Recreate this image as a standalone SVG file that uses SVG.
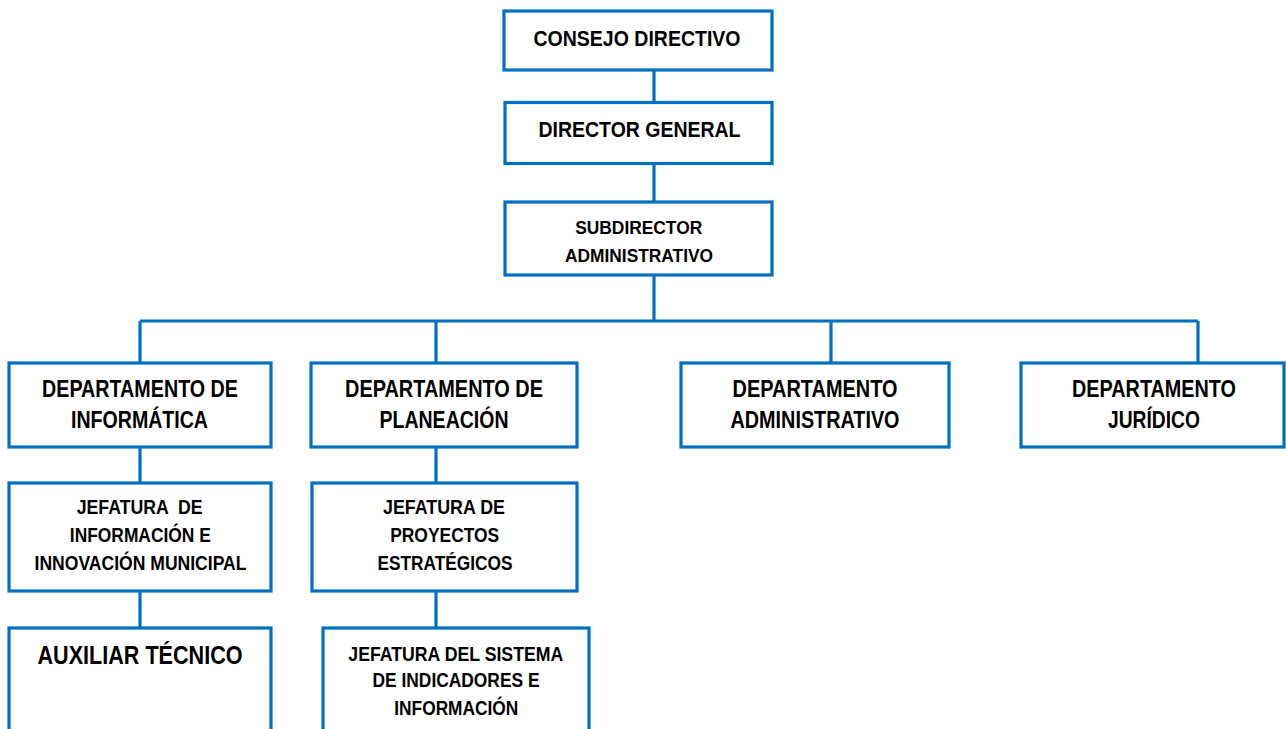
<svg xmlns="http://www.w3.org/2000/svg" width="1286" height="729" viewBox="0 0 1286 729">
<style>
.box{fill:#ffffff;stroke:#0070C0;stroke-width:3.2}
.ln{stroke:#0070C0;stroke-width:3.2;fill:none}
text{font-family:"Liberation Sans",Arial,sans-serif;font-weight:bold;fill:#000;text-anchor:middle;white-space:pre}
.f21{font-size:22px}
.f18{font-size:19px}
.f22{font-size:23px}
.f19{font-size:20px}
.f24{font-size:25px}
</style>
<rect width="1286" height="729" fill="#ffffff"/>
<g id="connectors">
<path class="ln" d="M654,70 V102 M654,163 V202 M654,275 V321"/>
<path class="ln" d="M140,321 H1198"/>
<path class="ln" d="M140,321 V363 M436,321 V363 M831,321 V363 M1198,321 V363"/>
<path class="ln" d="M140,447 V483 M436,447 V483"/>
<path class="ln" d="M140,591 V628 M436,591 V628"/>
</g>
<g id="consejo">
<rect class="box" x="504" y="11" width="268" height="59"/>
<text class="f21" x="637" y="45.5" textLength="207" lengthAdjust="spacingAndGlyphs">CONSEJO DIRECTIVO</text>
</g>
<g id="director">
<rect class="box" x="505" y="102.5" width="267" height="61"/>
<text class="f21" x="639.5" y="137" textLength="202" lengthAdjust="spacingAndGlyphs">DIRECTOR GENERAL</text>
</g>
<g id="subdirector">
<rect class="box" x="505" y="202" width="267" height="73"/>
<text class="f18" x="638.7" y="233.5" textLength="127" lengthAdjust="spacingAndGlyphs">SUBDIRECTOR</text>
<text class="f18" x="639" y="261.5" textLength="148" lengthAdjust="spacingAndGlyphs">ADMINISTRATIVO</text>
</g>
<g id="dep-informatica">
<rect class="box" x="9" y="363" width="262" height="84"/>
<text class="f22" x="140" y="396.5" textLength="196" lengthAdjust="spacingAndGlyphs">DEPARTAMENTO DE</text>
<text class="f22" x="139.5" y="427.5" textLength="137" lengthAdjust="spacingAndGlyphs">INFORMÁTICA</text>
</g>
<g id="dep-planeacion">
<rect class="box" x="311" y="363" width="266" height="84"/>
<text class="f22" x="444" y="396.5" textLength="198" lengthAdjust="spacingAndGlyphs">DEPARTAMENTO DE</text>
<text class="f22" x="444" y="427.5" textLength="129" lengthAdjust="spacingAndGlyphs">PLANEACIÓN</text>
</g>
<g id="dep-administrativo">
<rect class="box" x="681" y="363" width="268" height="84"/>
<text class="f22" x="815" y="396.5" textLength="165" lengthAdjust="spacingAndGlyphs">DEPARTAMENTO</text>
<text class="f22" x="815" y="427.5" textLength="169" lengthAdjust="spacingAndGlyphs">ADMINISTRATIVO</text>
</g>
<g id="dep-juridico">
<rect class="box" x="1021" y="363" width="263" height="84"/>
<text class="f22" x="1154" y="396.5" textLength="164" lengthAdjust="spacingAndGlyphs">DEPARTAMENTO</text>
<text class="f22" x="1154" y="427.5" textLength="92" lengthAdjust="spacingAndGlyphs">JURÍDICO</text>
</g>
<g id="jef-informacion">
<rect class="box" x="9" y="483" width="262" height="108"/>
<text class="f19" x="139.7" y="513.5" textLength="126" lengthAdjust="spacingAndGlyphs">JEFATURA  DE</text>
<text class="f19" x="140.3" y="542" textLength="141" lengthAdjust="spacingAndGlyphs">INFORMACIÓN E</text>
<text class="f19" x="140.5" y="569.5" textLength="212" lengthAdjust="spacingAndGlyphs">INNOVACIÓN MUNICIPAL</text>
</g>
<g id="jef-proyectos">
<rect class="box" x="312" y="483" width="265" height="108"/>
<text class="f19" x="444" y="513.5" textLength="122" lengthAdjust="spacingAndGlyphs">JEFATURA DE</text>
<text class="f19" x="444.7" y="542" textLength="109" lengthAdjust="spacingAndGlyphs">PROYECTOS</text>
<text class="f19" x="445" y="569.5" textLength="135" lengthAdjust="spacingAndGlyphs">ESTRATÉGICOS</text>
</g>
<g id="auxiliar">
<rect class="box" x="9" y="628" width="262" height="120"/>
<text class="f24" x="140" y="663.5" textLength="205" lengthAdjust="spacingAndGlyphs">AUXILIAR TÉCNICO</text>
</g>
<g id="jef-sistema">
<rect class="box" x="323" y="628" width="266" height="120"/>
<text class="f19" x="455.8" y="660.5" textLength="215" lengthAdjust="spacingAndGlyphs">JEFATURA DEL SISTEMA</text>
<text class="f19" x="456" y="687" textLength="167" lengthAdjust="spacingAndGlyphs">DE INDICADORES E</text>
<text class="f19" x="456.3" y="714.5" textLength="124" lengthAdjust="spacingAndGlyphs">INFORMACIÓN</text>
</g>
</svg>
